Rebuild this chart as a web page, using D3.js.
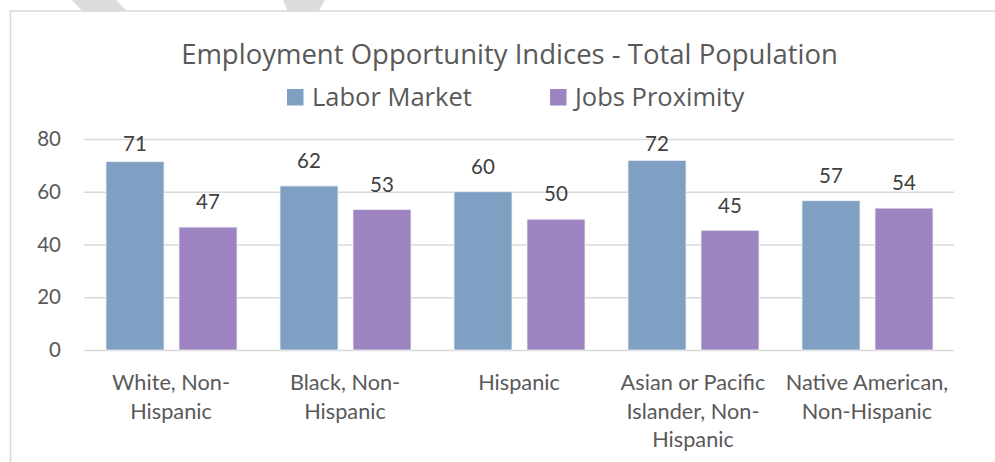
<!DOCTYPE html>
<html>
<head>
  <meta charset="utf-8">
  <title>Employment Opportunity Indices - Total Population</title>
  <script src="https://cdn.jsdelivr.net/npm/d3@7"></script>
  <style>
    body { margin: 0; background: #fff; }
    text { font-family: Lato, "Open Sans", sans-serif; }
    .head { font-family: "Open Sans", Lato, sans-serif; }
  </style>
</head>
<body>
  <svg id="chart" width="995" height="462"></svg>
  <script>
    // values (labels are the rounded numbers)
    var categories = ["White, Non-Hispanic", "Black, Non-Hispanic", "Hispanic",
                      "Asian or Pacific Islander, Non-Hispanic", "Native American, Non-Hispanic"];
    var categoryLines = [["White, Non-", "Hispanic"], ["Black, Non-", "Hispanic"], ["Hispanic"],
                         ["Asian or Pacific", "Islander, Non-", "Hispanic"], ["Native American,", "Non-Hispanic"]];
    var seriesNames = ["Labor Market", "Jobs Proximity"];
    var laborMarket = [71.4, 62.2, 60.0, 71.9, 56.6];
    var jobsProximity = [46.6, 53.3, 49.6, 45.4, 53.8];
    var yTicks = [0, 20, 40, 60, 80];
    var colors = ["#7f9fc3", "#9e84c0"];

    var svg = d3.select("#chart");

    // faint watermark strokes above the chart box
    svg.append("path").attr("d", "M72,0L116,0L128,12L83,12Z").attr("fill", "#dcdcdc");
    svg.append("path").attr("d", "M283,0L325,0L318,12L288,12Z").attr("fill", "#dcdcdc");

    // chart box, runs off the right and bottom
    svg.append("rect")
        .attr("x", 10.5).attr("y", 11)
        .attr("width", 1000).attr("height", 500)
        .attr("fill", "#fff")
        .attr("stroke", "#d9d9d9")
        .attr("stroke-width", 1.5);

    // NB: "top" is taken by window.top, so plot edges get their own names
    var plotL = 84, plotR = 954, plotT = 139, plotB = 350;

    var y = d3.scaleLinear().domain([0, 80]).range([plotB, plotT]);
    var x0 = d3.scaleBand().domain(categories).range([plotL, plotR]);
    var x1 = d3.scaleBand().domain(seriesNames).range([22, 153]).paddingInner(0.2055);

    // title
    svg.append("text")
        .attr("class", "head")
        .attr("x", 509.5).attr("y", 64)
        .attr("text-anchor", "middle")
        .attr("fill", "#595959")
        .style("font-size", "27.5px")
        .text("Employment Opportunity Indices - Total Population");

    // legend
    var legendX = [287, 550];
    var legend = svg.selectAll(".legend")
        .data(seriesNames)
      .enter().append("g")
        .attr("class", "legend")
        .attr("transform", (d, i) => "translate(" + legendX[i] + ",89)");
    legend.append("rect")
        .attr("width", 16.5).attr("height", 16.5)
        .attr("fill", (d, i) => colors[i]);
    legend.append("text")
        .attr("class", "head")
        .attr("x", 25).attr("y", 17)
        .attr("fill", "#595959")
        .style("font-size", "25.5px")
        .text(d => d);

    // y axis + gridlines
    var yAxis = svg.append("g")
        .attr("transform", "translate(" + plotL + ",0)")
        .call(d3.axisLeft(y).tickValues(yTicks).tickSize(-(plotR - plotL)).tickPadding(23));
    yAxis.select(".domain").remove();
    yAxis.selectAll(".tick line").attr("stroke", "#d9d9d9").attr("stroke-width", 1.5);
    yAxis.selectAll(".tick text")
        .attr("fill", "#595959")
        .style("font-size", "20.5px");

    // x axis with wrapped labels
    var xAxis = svg.append("g")
        .attr("transform", "translate(0," + plotB + ")")
        .call(d3.axisBottom(x0).tickSize(0));
    xAxis.select(".domain").remove();
    xAxis.selectAll(".tick text")
        .attr("y", 0).attr("dy", null)
        .attr("fill", "#595959")
        .style("font-size", "21.7px")
        .text(null)
        .each(function(d, i) {
          var t = d3.select(this);
          categoryLines[i].forEach((line, j) => {
            t.append("tspan").attr("x", 0).attr("y", 40 + j * 28.7).text(line);
          });
        });

    // bars
    var rows = categories.map((c, i) => ({cat: c, vals: [laborMarket[i], jobsProximity[i]]}));
    var groups = svg.selectAll(".grp")
        .data(rows)
      .enter().append("g")
        .attr("class", "grp")
        .attr("transform", d => "translate(" + x0(d.cat) + ",0)");

    groups.selectAll("rect")
        .data(d => d.vals.map((v, i) => ({name: seriesNames[i], v: v, i: i})))
      .enter().append("rect")
        .attr("x", d => x1(d.name))
        .attr("y", d => y(d.v))
        .attr("width", x1.bandwidth())
        .attr("height", d => y(0) - y(d.v))
        .attr("fill", d => colors[d.i])
        .attr("stroke", "#eef1f6")
        .attr("stroke-width", 0.8);

    // data labels, kept inside the plot top
    groups.selectAll(".lbl")
        .data(d => d.vals.map((v, i) => ({name: seriesNames[i], v: v})))
      .enter().append("text")
        .attr("class", "lbl")
        .attr("x", d => x1(d.name) + x1.bandwidth() / 2)
        .attr("y", d => Math.max(y(d.v) - 17.7, plotT + 11.5))
        .attr("text-anchor", "middle")
        .attr("fill", "#404040")
        .style("font-size", "20.5px")
        .text(d => d3.format(".0f")(d.v));
  </script>
</body>
</html>
